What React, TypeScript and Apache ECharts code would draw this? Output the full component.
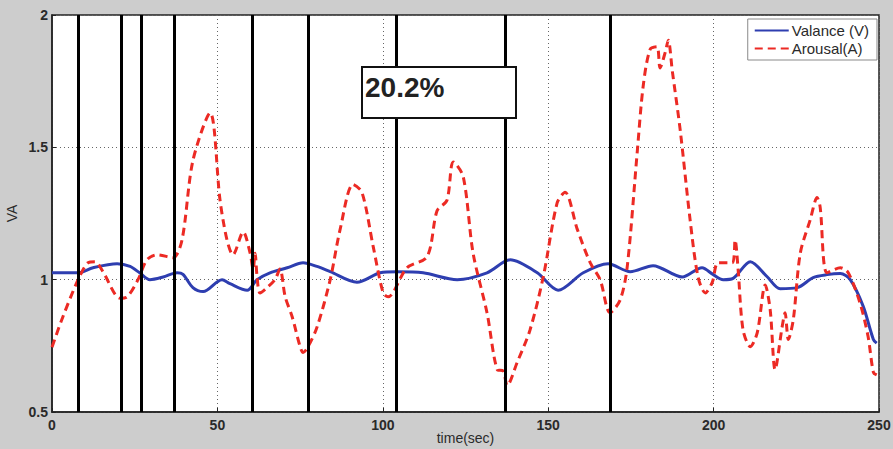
import React, { useEffect, useRef } from "react";
import * as echarts from "echarts";

// Valence trace: sample times (s) and values
const valenceTime = [0, 7.9, 12.4, 19.7, 23.6, 26.6, 29.6, 33.6, 37.8, 39.6, 42.6, 45.7, 51.4, 53.8, 59.0, 62.0, 65.9, 71.1, 75.9, 80.1, 84.1, 92.2, 99.2, 104.3, 112.2, 122.5, 131.5, 138.5, 146.7, 153.0, 160.6, 168.1, 174.8, 181.7, 190.5, 196.5, 199.8, 202.9, 205.9, 211.1, 216.2, 220.1, 225.3, 230.1, 234.3, 238.3, 241.3, 245.2, 248.3, 249.3];
const valenceValue = [1.026, 1.026, 1.045, 1.06, 1.05, 1.025, 1.0, 1.01, 1.026, 1.02, 0.97, 0.955, 1.0, 0.985, 0.96, 1.0, 1.026, 1.045, 1.064, 1.05, 1.03, 0.99, 1.026, 1.03, 1.026, 1.0, 1.026, 1.075, 1.026, 0.96, 1.026, 1.06, 1.03, 1.053, 1.01, 1.045, 1.02, 1.0, 1.005, 1.068, 1.011, 0.966, 0.97, 1.008, 1.019, 1.023, 1.0, 0.9, 0.774, 0.76];

// Arousal trace: sample times (s) and values
const arousalTime = [0, 3.3, 7.9, 10.9, 13.0, 15.4, 20.6, 22.7, 26.0, 28.7, 31.8, 36.6, 39.3, 42.6, 47.8, 50.8, 52.9, 54.7, 57.8, 59.9, 60.8, 61.4, 62.0, 62.9, 65.0, 67.4, 68.9, 70.5, 72.6, 75.0, 75.9, 77.1, 80.1, 84.1, 87.1, 91.0, 93.7, 97.1, 100.1, 101.6, 107.3, 113.4, 116.4, 119.4, 121.3, 124.3, 127.3, 131.5, 134.6, 136.4, 137.6, 140.6, 144.5, 148.5, 152.7, 155.1, 158.8, 162.7, 165.7, 168.7, 171.8, 173.9, 176.9, 178.7, 180.8, 182.9, 183.8, 185.4, 186.3, 187.5, 189.9, 192.9, 195.3, 197.5, 199.6, 201.4, 205.6, 206.5, 207.4, 208.9, 211.1, 213.2, 215.6, 217.1, 218.6, 220.7, 221.6, 222.6, 224.1, 226.2, 229.2, 231.3, 232.2, 234.3, 238.3, 240.7, 244.3, 246.7, 248.3, 249.3];
const arousalValue = [0.745, 0.86, 1.0, 1.064, 1.068, 1.03, 0.93, 0.935, 1.0, 1.075, 1.094, 1.083, 1.15, 1.45, 1.63, 1.3, 1.15, 1.094, 1.18, 1.1, 1.04, 1.1, 1.01, 0.95, 0.97, 1.0, 1.04, 0.935, 0.86, 0.747, 0.725, 0.74, 0.82, 1.0, 1.19, 1.36, 1.33, 1.125, 0.95, 0.935, 1.045, 1.087, 1.26, 1.3, 1.445, 1.39, 1.1, 0.875, 0.66, 0.655, 0.6, 0.687, 0.81, 1.01, 1.29, 1.33, 1.19, 1.064, 1.0, 0.875, 0.925, 1.05, 1.48, 1.73, 1.87, 1.88, 1.8, 1.86, 1.905, 1.79, 1.566, 1.226, 1.01, 0.95, 0.99, 1.064, 1.064, 1.15, 1.04, 0.81, 0.747, 0.8, 0.98, 0.887, 0.66, 0.82, 0.875, 0.774, 0.85, 1.1, 1.226, 1.31, 1.275, 1.026, 1.045, 1.026, 0.91, 0.785, 0.65, 0.64];

// Segment boundaries (s)
const boundaries = [8, 21, 27, 37, 60.5, 77.4, 104, 137, 168.7];

const seriesNames = ["Valance (V)", "Arousal(A)"];
const annotationText = "20.2%";

const zip = (xs: number[], ys: number[]) => xs.map((x, i) => [x, ys[i]]);

export default function App() {
  const ref = useRef<HTMLDivElement>(null);

  useEffect(() => {
    if (!ref.current) return;
    const chart = echarts.init(ref.current, undefined, { renderer: "svg" });
    const font = "Liberation Sans, Arial, sans-serif";
    const tickFont = { color: "#2a2a2a", fontSize: 14, fontWeight: "bold", fontFamily: font };
    chart.setOption({
      animation: false,
      backgroundColor: "#cdcdcd",
      grid: {
        left: 52,
        right: 14,
        top: 15,
        bottom: 37,
        outerBoundsMode: "none",
        containLabel: false,
        show: true,
        backgroundColor: "#ffffff",
        borderColor: "#222",
        borderWidth: 1.5,
      },
      legend: {
        data: seriesNames,
        orient: "vertical",
        right: 16,
        top: 19,
        itemWidth: 34,
        itemHeight: 14,
        itemGap: 3,
        padding: [4, 8, 4, 6],
        backgroundColor: "#ffffff",
        borderColor: "#8a8a8a",
        borderWidth: 1,
        borderRadius: 0,
        itemStyle: { opacity: 0 },
        textStyle: { color: "#2a2a2a", fontSize: 15, fontFamily: font, padding: [0, 0, 0, -2] },
      },
      xAxis: {
        type: "value",
        min: 0,
        max: 250,
        interval: 50,
        name: "time(sec)",
        nameLocation: "middle",
        nameGap: 19,
        nameMoveOverlap: false,
        nameTextStyle: { color: "#2a2a2a", fontSize: 14, fontFamily: font },
        axisLine: { show: true, lineStyle: { color: "#222", width: 1.5 } },
        axisTick: { show: true, inside: true, length: 4, lineStyle: { color: "#222" } },
        axisLabel: { ...tickFont, margin: 6 },
        splitLine: { show: true, lineStyle: { color: "#666", type: [1, 3], width: 1 } },
      },
      yAxis: {
        type: "value",
        min: 0.5,
        max: 2,
        interval: 0.5,
        name: "VA",
        nameLocation: "middle",
        nameGap: 33,
        nameMoveOverlap: false,
        nameTextStyle: { color: "#2a2a2a", fontSize: 14, fontFamily: font },
        axisLine: { show: true, lineStyle: { color: "#222", width: 1.5 } },
        axisTick: { show: true, inside: true, length: 4, lineStyle: { color: "#222" } },
        axisLabel: { ...tickFont, margin: 4 },
        splitLine: { show: true, lineStyle: { color: "#666", type: [1, 3], width: 1 } },
      },
      series: [
        {
          name: seriesNames[0],
          type: "line",
          data: zip(valenceTime, valenceValue),
          symbol: "none",
          smooth: 0.3,
          z: 3,
          lineStyle: { color: "#2e3eb0", width: 3 },
          itemStyle: { color: "#2e3eb0" },
        },
        {
          name: seriesNames[1],
          type: "line",
          data: zip(arousalTime, arousalValue),
          symbol: "none",
          smooth: 0.3,
          z: 4,
          lineStyle: { color: "#ec2a24", width: 3, type: [8, 5] },
          itemStyle: { color: "#ec2a24" },
        },
        {
          name: "boundaries",
          type: "line",
          data: [],
          z: 5,
          markLine: {
            silent: true,
            symbol: ["none", "none"],
            label: { show: false },
            lineStyle: { color: "#000", width: 3, type: "solid" },
            data: boundaries.map((t) => ({ xAxis: t })),
          },
        },
      ],
      graphic: [
        {
          type: "rect",
          z: 100,
          shape: { x: 362, y: 67, width: 154, height: 51 },
          style: { fill: "#ffffff", stroke: "#111", lineWidth: 2 },
        },
        {
          type: "text",
          z: 101,
          x: 365,
          y: 73,
          style: {
            text: annotationText,
            fill: "#222",
            fontSize: 28,
            fontWeight: "bold",
            fontFamily: font,
          },
        },
      ],
    });
    return () => chart.dispose();
  }, []);

  return (
    <div
      ref={ref}
      style={{ position: "fixed", left: 0, top: 0, width: 893, height: 449 }}
    />
  );
}
